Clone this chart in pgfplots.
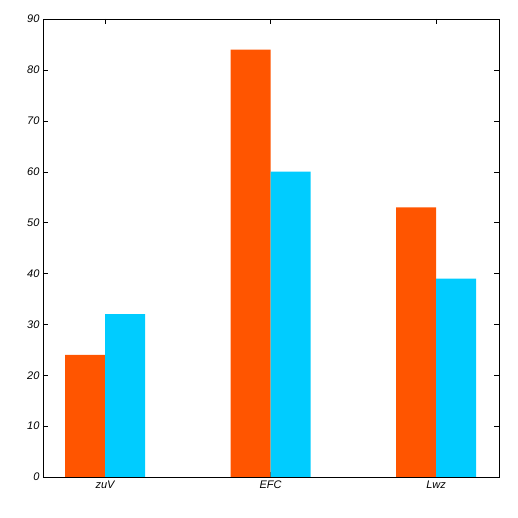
\documentclass[border=0pt]{standalone}
\usepackage{pgfplots}
\pgfplotsset{compat=1.18}
\usepackage{fontspec}
\setmainfont{Liberation Sans}
\usetikzlibrary{calc}
\definecolor{bo}{HTML}{FF5500}
\definecolor{bc}{HTML}{00CCFF}
\begin{document}
\begin{tikzpicture}
\begin{axis}[name=ax,
  scale only axis, width=456pt, height=458pt,
  xmin=-0.375, xmax=2.38, ymin=0, ymax=90,
  ybar=0pt, bar width=40pt,
  xtick={0,1,2}, xticklabels={zuV,EFC,Lwz},
  ytick={0,10,...,90},
  tick align=inside, major tick length=5pt,
  tick style={black},
  ticklabel style={font=\itshape\fontsize{11}{13}\selectfont},
  /pgf/number format/assume math mode=true,
  axis line style={black},
]
\addplot[fill=bo, draw=none] coordinates {(0,24) (1,84) (2,53)};
\addplot[fill=bc, draw=none] coordinates {(0,32) (1,60) (2,39)};
\end{axis}
\path[use as bounding box] ($(ax.south west)+(-43pt,-41pt)$) rectangle ($(ax.north east)+(19pt,19pt)$);
\end{tikzpicture}
\end{document}
